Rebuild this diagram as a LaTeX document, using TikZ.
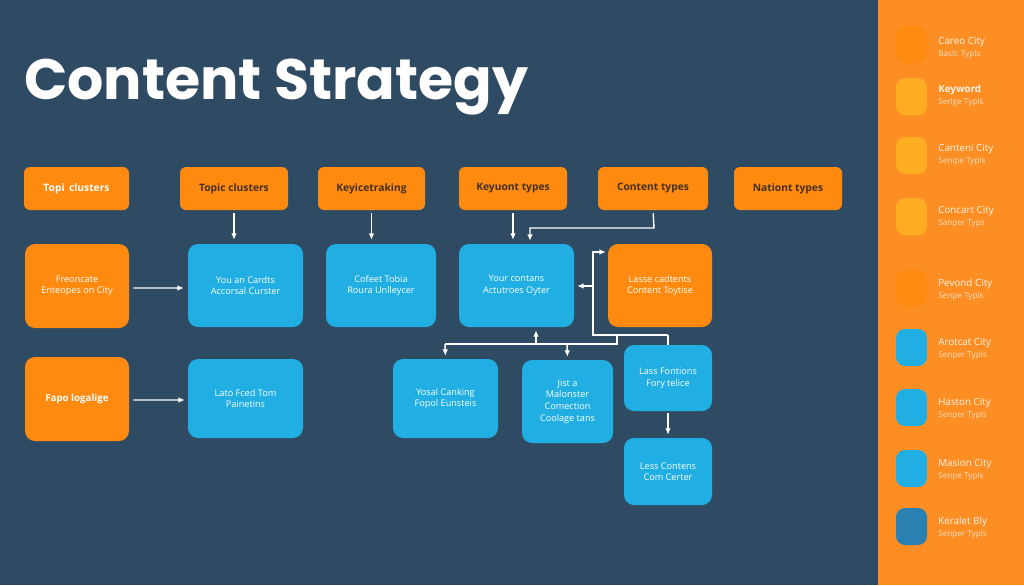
\documentclass[tikz,border=0pt]{standalone}
\usepackage{fontspec}
\setmainfont{Open Sans}
\newfontfamily\titlefont{Poppins}
\usetikzlibrary{arrows.meta}
\newlength{\pixel}
\setlength{\pixel}{0.025cm}
\definecolor{slatebg}{HTML}{2F4A63}
\definecolor{panelorange}{HTML}{FC8E23}
\definecolor{boxorange}{HTML}{FF8A10}
\definecolor{boxblue}{HTML}{20AEE3}
\definecolor{paleorange}{HTML}{FFAD22}
\definecolor{deepblue}{HTML}{2A80B0}
\definecolor{darklabel}{HTML}{45301F}
\newcommand{\sublabel}[1]{{\color{white!72!panelorange}\fontsize{5.8}{8.6}\selectfont #1}}
\tikzset{
    headbox/.style={fill=boxorange, rounded corners=6\pixel, minimum height=43\pixel, inner sep=0pt, text=darklabel, font=\fontsize{7.3}{9}\selectfont\bfseries},
    bigbox/.style={fill=boxorange, rounded corners=10\pixel, inner sep=0pt, align=center, text=white, font=\fontsize{6.5}{8.2}\selectfont},
    bluebox/.style={bigbox, fill=boxblue},
    swatch/.style={rounded corners=9\pixel, minimum width=31\pixel, minimum height=37\pixel, inner sep=0pt},
    legendtext/.style={anchor=west, inner sep=0pt, align=left, text=white!90!panelorange, font=\fontsize{7}{8.6}\selectfont},
    link/.style={draw=white, line width=1pt, -{Latex[length=4.5pt,width=4pt]}},
    plainlink/.style={draw=white, line width=1pt}
}
\begin{document}
\begin{tikzpicture}[x=1\pixel, y=-1\pixel]
    % Background
    \useasboundingbox (0,0) rectangle (1024,585);
    \fill[slatebg] (0,0) rectangle (1024,585);
    \fill[panelorange] (878,0) rectangle (1024,585);

    % Title
    \node[anchor=west, inner sep=0pt, text=white] (title) at (24,87) {\titlefont\fontsize{40.5}{41}\selectfont\bfseries Content Strategy};

    % Top row
    \node[headbox, minimum width=105\pixel, text=white] (topa) at (76.5,188.5) {Topi\, clusters};
    \node[headbox, minimum width=108\pixel] (topb) at (234,188.5) {Topic clusters};
    \node[headbox, minimum width=107\pixel] (topc) at (371.5,188.5) {Keyicetraking};
    \node[headbox, minimum width=108\pixel] (topd) at (513,188.5) {Keyuont types};
    \node[headbox, minimum width=110\pixel] (tope) at (653,188.5) {Content types};
    \node[headbox, minimum width=108\pixel] (topf) at (788,188.5) {Nationt types};

    % Orange boxes
    \node[bigbox, minimum width=104\pixel, minimum height=84\pixel] (leftup) at (77,286) {Freoncate\\Enteopes on City};
    \node[bigbox, minimum width=104\pixel, minimum height=84\pixel, font=\fontsize{6.9}{9}\selectfont\bfseries] (leftdown) at (77,399) {Fapo logalige};
    \node[bigbox, minimum width=104\pixel, minimum height=83\pixel] (lasebox) at (660,285.5) {Lasse cadtents\\Content Toytise};

    % Blue boxes
    \node[bluebox, minimum width=115\pixel, minimum height=83\pixel] (cards) at (245.5,285.5) {You an Cardts\\Accorsal Curster};
    \node[bluebox, minimum width=110\pixel, minimum height=83\pixel] (tobia) at (381,285.5) {Cofeet Tobia\\Roura Unlleycer};
    \node[bluebox, minimum width=115\pixel, minimum height=83\pixel] (yourbox) at (516.5,285.5) {Your contans\\Actutroes Oyter};
    \node[bluebox, minimum width=115\pixel, minimum height=79\pixel] (feedbox) at (245.5,398.5) {Lato Fced Tom\\Painetins};
    \node[bluebox, minimum width=105\pixel, minimum height=79\pixel] (ranking) at (445.5,398.5) {Yosal Canking\\Fopol Eunsteis};
    \node[bluebox, minimum width=91\pixel, minimum height=83\pixel] (justbox) at (567.5,401.5) {Jist a\\Malonster\\Comection\\Coolage tans};
    \node[bluebox, minimum width=88\pixel, minimum height=66\pixel] (fontbox) at (668,378) {Lass Fontions\\Fory telice};
    \node[bluebox, minimum width=88\pixel, minimum height=67\pixel] (centerbox) at (668,471.5) {Less Contens\\Com Certer};

    % Joints
    \coordinate (turnright) at (654,228);
    \coordinate (turnleft) at (530,228);
    \coordinate (busa) at (593,335);
    \coordinate (busb) at (668,335);
    \coordinate (busc) at (593,252);
    \coordinate (busd) at (593,286);
    \coordinate (buse) at (617,335);
    \coordinate (busf) at (617,344);
    \coordinate (busg) at (445,344);
    \coordinate (bush) at (536,344);
    \coordinate (busi) at (567,344);

    % Arrows
    \draw[link, shorten <=3\pixel, shorten >=4\pixel] (topb.south) -- (topb.south |- cards.north);
    \draw[link, shorten <=3\pixel, shorten >=4\pixel] (topc.south) -- (topc.south |- tobia.north);
    \draw[link, shorten <=3\pixel, shorten >=4\pixel] (topd.south) -- (topd.south |- yourbox.north);
    \draw[link, shorten <=3\pixel, shorten >=3\pixel] (tope.south) -- (turnright) -- (turnleft) -- (turnleft |- yourbox.north);
    \draw[link, shorten <=4\pixel, shorten >=4\pixel] ([yshift=-2\pixel]leftup.east) -- ([yshift=-2.5\pixel]cards.west);
    \draw[link, shorten <=4\pixel, shorten >=3\pixel] ([yshift=-1\pixel]leftdown.east) -- ([yshift=-1.5\pixel]feedbox.west);
    \draw[link, shorten >=2\pixel] (busb) -- (busa) -- (busc) -- (busc -| lasebox.west);
    \draw[link, shorten >=3\pixel] (busd) -- (yourbox.east |- busd);
    \draw[plainlink] (busb) -- (fontbox.north);
    \draw[plainlink] (buse) -- (busf) -- (busg);
    \draw[link, shorten >=3\pixel] (busg) -- (ranking.north);
    \draw[link, shorten >=3\pixel] (bush) -- (bush |- yourbox.south);
    \draw[link, shorten >=3\pixel] (busi) -- (justbox.north);
    \draw[link, shorten <=2\pixel, shorten >=3\pixel] (fontbox.south) -- (centerbox.north);

    % Legend
    \node[swatch, fill=boxorange] (keya) at (911.5,44.5) {};
    \node[swatch, fill=paleorange] (keyb) at (911.5,96.5) {};
    \node[swatch, fill=paleorange] (keyc) at (911.5,155.5) {};
    \node[swatch, fill=paleorange] (keyd) at (911.5,216.5) {};
    \node[swatch, fill=boxorange] (keye) at (911.5,288) {};
    \node[swatch, fill=boxblue] (keyf) at (911.5,347.5) {};
    \node[swatch, fill=boxblue] (keyg) at (911.5,407.5) {};
    \node[swatch, fill=boxblue] (keyh) at (911.5,468.5) {};
    \node[swatch, fill=deepblue] (keyi) at (911.5,526.5) {};

    % Legend labels
    \node[legendtext] (texta) at (938,48) {Careo City\\\sublabel{Bastc Typls}};
    \node[legendtext] (textb) at (938,96) {\textbf{Keyword}\\\sublabel{Serlge Typls}};
    \node[legendtext] (textc) at (938,155) {Canteni City\\\sublabel{Senipe Typls}};
    \node[legendtext] (textd) at (938,217) {Concart City\\\sublabel{Sanper Typs}};
    \node[legendtext] (texte) at (938,290) {Pevond City\\\sublabel{Senpe Typls}};
    \node[legendtext] (textf) at (938,349) {Arotcat City\\\sublabel{Senper Typls}};
    \node[legendtext] (textg) at (938,409) {Haston City\\\sublabel{Senper Typls}};
    \node[legendtext] (texth) at (938,470) {Masion City\\\sublabel{Senpe Typls}};
    \node[legendtext] (texti) at (938,528) {Keralet Bly\\\sublabel{Senper Typls}};
\end{tikzpicture}
\end{document}
